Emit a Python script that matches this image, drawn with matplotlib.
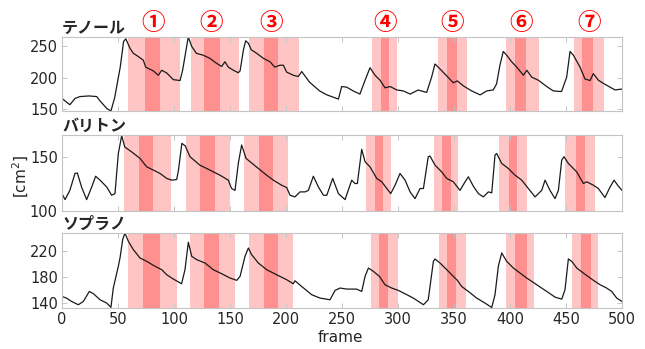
import matplotlib
matplotlib.use("Agg")
import matplotlib.pyplot as plt
import matplotlib.transforms as mtransforms

# ---------------- data ----------------
titles = ["テノール", "バリトン", "ソプラノ"]
labels_num = ["①", "②", "③", "④", "⑤", "⑥", "⑦"]
label_frames = [81, 133, 187, 289, 348, 410, 471]

ten_x = [0, 7, 11.6, 16, 24, 31, 34, 40, 43.7, 47, 52, 55, 57, 60.7, 63.7, 68, 72.6, 74.7, 81.5, 86, 89,
         93.5, 99.4, 105.4, 107.7, 111.3, 112.8, 115.8, 120, 126, 132, 138, 142.5, 145.5, 148.5, 153,
         157.4, 159, 162, 164, 166.4, 169, 173.8, 179.8, 185.7, 190, 194.6, 197.6, 200.6, 206.5, 211,
         214, 221, 230, 236.4, 246.8, 249.7, 254.2, 260, 266, 270.6, 275, 279.5, 284, 288.4, 293, 299,
         304.8, 310.8, 318, 325.6, 330, 333, 337.5, 343.5, 349.4, 353, 358.4, 365.8, 373.3, 379.2, 385,
         388, 391, 394, 397, 401.5, 406, 412, 415, 419.4, 425.4, 432.8, 438.7, 446, 450.6, 453.6, 456.6,
         462.5, 467, 471.5, 474.4, 479, 483.4, 489.3, 493.8, 500]
ten_y = [167, 157, 167, 170, 171, 170, 163, 151, 147, 168, 217, 258, 262, 247, 239, 234, 228, 217, 211, 204,
         212, 207.6, 197, 195.6, 212, 250, 265, 250, 239, 236, 231, 223, 218, 225.5, 217, 212, 208, 211,
         244.6, 259, 255, 244.6, 239, 231, 225.5, 217, 220, 220, 209, 204, 202, 210, 193, 179, 172.8,
         166, 186, 185, 179, 174, 196, 216, 204, 196, 184, 186, 180.5, 179, 174, 180.5, 176.6, 201, 222,
         214, 203, 192, 195, 187, 179, 172.7, 179, 180.6, 190, 220, 242, 236, 225.5, 217, 204, 212, 201,
         196, 186, 179, 178, 201, 242, 236, 217, 198, 195.6, 206.5, 196, 191, 185, 180.6, 182]

bar_x = [0, 2.7, 7, 11.6, 13.7, 17.5, 22, 26.5, 30, 34, 40, 44.3, 47.3, 50.3, 53.3, 56, 62, 69.6, 75.6,
         81.5, 87.5, 93.5, 98, 102.4, 104, 107, 110, 114.3, 123, 132, 141, 148.5, 151.4, 154.5, 157.4,
         160.4, 164.3, 167.9, 175.3, 182.7, 188.7, 196, 200.6, 203.6, 208, 212.5, 217, 220, 224.4, 229,
         233.4, 236.4, 241.7, 246.8, 252.7, 258.7, 261.6, 263.7, 267.6, 270.6, 275, 281, 285.5, 290,
         293.5, 297.4, 301.8, 306.3, 310.8, 315.2, 319.7, 322.7, 327, 328.6, 333, 339, 343.5, 349.4,
         355.4, 359.9, 362.8, 367.3, 371.8, 376.2, 380.7, 383.7, 386.6, 388.1, 392.6, 398.5, 404.5,
         410.5, 416.4, 422.4, 428.3, 431.3, 435.7, 440.2, 443.2, 446.2, 448.2, 452.1, 459.6, 465.5,
         468.5, 474.4, 478.9, 484.8, 489.3, 492.9, 496.8, 500]
bar_y = [116, 110.5, 119, 134.6, 135, 122, 110.5, 122, 132, 128.4, 122, 114.5, 116, 153, 169.5, 159, 154.6,
         148.5, 140.7, 137.7, 134.6, 130, 128.4, 129, 137.7, 162.3, 160, 150, 142.3, 137.7, 133, 128.4,
         120.7, 119, 143.8, 160.8, 148.5, 145.4, 139.2, 133, 128.4, 123.8, 121.6, 114.5, 113, 117.6,
         117.6, 119, 132, 122, 114.5, 114.5, 130, 116, 110.5, 128.4, 125.3, 125.3, 156.8, 145.4, 140.7,
         130, 126.9, 120.7, 116, 123.8, 134.6, 128.4, 117.6, 111.4, 120.7, 120.7, 150, 150.6, 142.3,
         136, 130, 126.9, 119, 126.9, 131.5, 122.8, 116, 113, 117.6, 116.7, 151.5, 153, 143.8, 139.2,
         133, 128.4, 120.7, 113, 119, 128.4, 119, 111.4, 119, 147, 150, 143.8, 136, 125.3, 126.9, 123.8,
         120.7, 112.4, 122, 128.4, 122.8, 119]

sop_x = [0, 4.2, 8.6, 14.6, 19, 24.4, 28, 34, 40, 43.7, 45.8, 50.3, 51.8, 54.2, 56.2, 59.2, 63.7, 69.6,
         75.6, 83, 89, 93.5, 99.4, 106.8, 109.8, 112.8, 115.8, 120.2, 127.7, 135, 142.5, 150, 156, 159,
         163.4, 166.4, 169.3, 175.3, 182.7, 191.6, 200.6, 206.5, 208, 214, 223, 230.4, 239.3, 243.8,
         248.3, 254.2, 263, 267.6, 270.6, 273.6, 278, 283.4, 288.4, 294.4, 300.3, 306.3, 313.7, 322.7,
         327, 331.6, 333, 337.5, 343.5, 349.4, 353, 356.9, 362.8, 370.3, 377.7, 383.7, 386.6, 389.6,
         392.6, 397, 403, 409, 414.9, 423.8, 432.8, 440.2, 446.2, 449.1, 452.1, 455.1, 459.6, 465.5,
         471.5, 475.9, 480.4, 486.3, 490.8, 495.3, 500]
sop_y = [149.7, 147, 142, 137, 142, 157.4, 154, 144.6, 139.5, 133, 162.6, 196, 208.7, 237, 247, 234.4, 221.5,
         208.7, 203.6, 196, 190.8, 183, 176.4, 169.2, 190.8, 232.8, 211.3, 206.2, 201, 190.8, 184.6, 178,
         174.4, 180.5, 211.3, 224, 213.8, 201, 190.8, 183, 175.4, 169.2, 173.8, 165, 152.3, 147.2, 144.6,
         159, 162.6, 161, 161, 157.4, 180.5, 193.3, 188.2, 180.5, 167.7, 162.6, 159, 153.8, 147.2, 137,
         144.6, 203.6, 207.2, 201, 190.8, 180.5, 174.4, 165, 157.4, 147.2, 139.5, 132.8, 152.3, 196,
         216.4, 203.6, 193.3, 185.6, 178, 167.7, 157.4, 148.7, 145.6, 160, 207.2, 203.6, 193.3, 185.6,
         178, 172.8, 167.7, 162.6, 157.4, 147.2, 142]

# shaded intervals (frames): light [start, end], dark [start, end]
ten_light = [(59, 105), (115, 158), (167, 212), (276.5, 299.5), (336, 361.5), (396.5, 425.5), (457.5, 483.5)]
ten_dark = [(74, 87.5), (127, 141.5), (180, 193), (285, 292), (344, 352.5), (404.5, 414), (464.5, 474)]
bar_light = [(55, 97.5), (110.5, 150), (162.5, 201.5), (271.5, 294), (332, 354), (390, 415), (449.5, 475.5)]
bar_dark = [(68.5, 81.5), (123.5, 136.5), (175.5, 188.5), (279.5, 287), (339.5, 347), (399, 406.5), (459, 467)]
sop_light = [(58.5, 102.5), (114.5, 154.5), (167, 206.5), (276, 300), (336.5, 360.5), (396, 421.5), (455.5, 479)]
sop_dark = [(72.5, 87.5), (127, 140.5), (180.5, 193), (283, 291.5), (344, 352), (404.5, 415.5), (463, 472)]

ylims = [(147, 265), (100, 170), (132, 247)]
yticks = [[150, 200, 250], [100, 150], [140, 180, 220]]
xticks = list(range(0, 501, 50))

# ---------------- plotting ----------------
W, H = 645, 349
fig = plt.figure(figsize=(W / 100, H / 100), dpi=100)

boxes = [(37, 111), (135, 211), (233, 308)]
left_px, right_px = 62, 622
xs = [ten_x, bar_x, sop_x]
ys = [ten_y, bar_y, sop_y]
lights = [ten_light, bar_light, sop_light]
darks = [ten_dark, bar_dark, sop_dark]

LIGHT = "#FFC4C4"
DARK = "#FF9090"
FRAME = "#C4C4C4"
TXT = "#262626"

jp = ["Noto Sans CJK JP", "DejaVu Sans"]
axes = []
for i, (top, bot) in enumerate(boxes):
    ax = fig.add_axes([left_px / W, (H - bot) / H, (right_px - left_px) / W, (bot - top) / H])
    axes.append(ax)
    for a, b in lights[i]:
        ax.axvspan(a, b, color=LIGHT, lw=0, zorder=0)
    for a, b in darks[i]:
        ax.axvspan(a, b, color=DARK, lw=0, zorder=0.5)
    ax.plot(xs[i], ys[i], color="#1a1a1a", lw=0.9, zorder=2)
    ax.set_xlim(0, 500)
    ax.set_ylim(*ylims[i])
    ax.set_yticks(yticks[i])
    ax.set_xticks(xticks)
    ax.tick_params(direction="in", length=3.5, width=0.7, color=FRAME, labelcolor=TXT,
                   labelsize=10.5, top=True, right=True, pad=3)
    if i < 2:
        ax.set_xticklabels([])
    for s in ax.spines.values():
        s.set_color(FRAME)
        s.set_linewidth(0.8)
    ax.text(0.0, 1.02, titles[i], transform=ax.transAxes, ha="left", va="bottom",
            fontsize=11.5, fontweight="bold", family=jp, color=TXT)

# circled numbers above top plot
trans = mtransforms.blended_transform_factory(axes[0].transData, fig.transFigure)
for f, lab in zip(label_frames, labels_num):
    fig.text(f, 1 - 23 / H, lab, transform=trans, ha="center", va="center",
             fontsize=17, fontweight="bold", color="#FF0000", family=jp)

fig.text(21 / W, 1 - 176 / H, r"[cm$^2$]", rotation=90, ha="center", va="center",
         fontsize=11, color=TXT)
fig.text(340 / W, 1 - 338 / H, "frame", ha="center", va="center", fontsize=11, color=TXT)

fig.savefig("out.png", dpi=100)
